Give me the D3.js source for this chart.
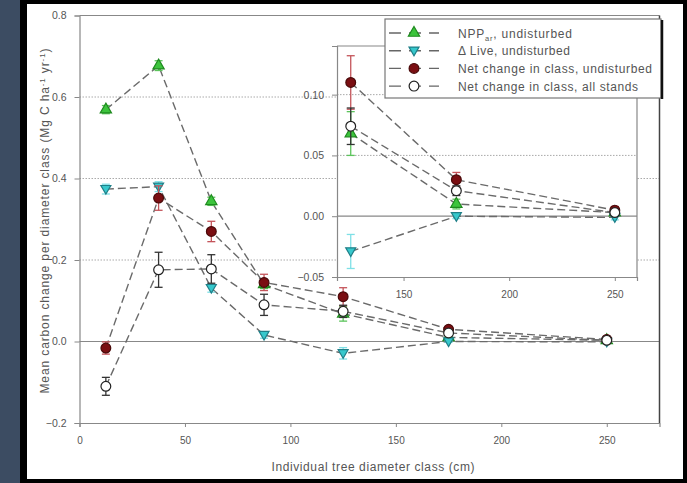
<!DOCTYPE html>
<html>
  <head>
    <meta charset="utf-8">
    <title>Carbon change per diameter class</title>
    <script src="https://cdn.jsdelivr.net/npm/d3@7/dist/d3.min.js"></script>
    <style>
      body { margin: 0; background: #000; }
      text { font-family: "Liberation Sans", Arial, sans-serif; fill: #555; }
      .dash { fill: none; stroke: #6a6a6a; stroke-width: 1.4; stroke-dasharray: 8,4; }
      .grid { stroke: #aaa; stroke-width: 1; stroke-dasharray: 1.5,1.5; }
      .axis-line { stroke: #888; stroke-width: 1.2; fill: none; }
    </style>
  </head>
  <body>
    <svg id="chart" width="687" height="483"></svg>
    <script>
    // diameter classes (cm)
    var diamClass = [12.5, 37.5, 62.5, 87.5, 125, 175, 250];

    var nppVals = [0.569, 0.677, 0.344, 0.14, 0.068, 0.010, 0.003];
    var nppErr = [0.010, 0.012, 0.010, 0.010, 0.018, 0.004, 0.002];
    var liveVals = [0.374, 0.380, 0.131, 0.016, -0.029, 0.000, -0.001];
    var liveErr = [0.012, 0.012, 0.010, 0.008, 0.014, 0.002, 0.002];
    var netUndVals = [-0.016, 0.352, 0.270, 0.145, 0.110, 0.030, 0.005];
    var netUndErr = [0.015, 0.030, 0.025, 0.020, 0.022, 0.006, 0.003];
    var netAllVals = [-0.110, 0.176, 0.178, 0.090, 0.074, 0.021, 0.003];
    var netAllErr = [0.022, 0.043, 0.035, 0.026, 0.015, 0.004, 0.002];

    var xTicks = [0, 50, 100, 150, 200, 250];
    var yTicks = [-0.2, 0.0, 0.2, 0.4, 0.6, 0.8];
    var insetXTicks = [150, 200, 250];
    var insetYTicks = [-0.05, 0.00, 0.05, 0.10];

    var series = [
      {name: "npp", vals: nppVals, err: nppErr, shape: "up", fill: "#3cc43c", stroke: "#1f8a1f", errColor: "#5cc45c"},
      {name: "live", vals: liveVals, err: liveErr, shape: "down", fill: "#36c8cc", stroke: "#1f7f88", errColor: "#7fe0e6"},
      {name: "netUnd", vals: netUndVals, err: netUndErr, shape: "circle", fill: "#7a0e12", stroke: "#4a0a0a", errColor: "#c4545a"},
      {name: "netAll", vals: netAllVals, err: netAllErr, shape: "circle", fill: "#fff", stroke: "#222", errColor: "#333"}
    ];

    var svg = d3.select("#chart");

    // frame
    svg.append("rect").attr("x", 0).attr("y", 0).attr("width", 20).attr("height", 483).attr("fill", "#3c4c62");
    svg.append("rect").attr("x", 27).attr("y", 4).attr("width", 656).attr("height", 475).attr("fill", "#fff");

    var x = d3.scaleLinear().domain([0, 275]).range([79.5, 659.5]);
    var y = d3.scaleLinear().domain([-0.2, 0.8]).range([423, 15.5]);

    function drawPanel(g, xs, ys, xt, yt, gridVals, yFmt, minX) {
      var x0 = xs.range()[0], x1 = xs.range()[1];
      var yb = ys.range()[0], yt0 = ys.range()[1];

      gridVals.forEach(function(v) {
        g.append("line").attr("class", "grid")
          .attr("x1", x0).attr("x2", x1).attr("y1", ys(v)).attr("y2", ys(v));
      });
      g.append("line").attr("class", "axis-line")
        .attr("x1", x0).attr("x2", x1).attr("y1", ys(0)).attr("y2", ys(0))
        .attr("stroke-width", 1.5);

      // border
      g.append("line").attr("class", "axis-line").attr("x1", x0).attr("x2", x1).attr("y1", yt0).attr("y2", yt0);

      var xAxis = d3.axisBottom(xs).tickValues(xt).tickSize(4).tickFormat(d3.format("d"));
      g.append("g").attr("transform", "translate(0," + yb + ")").call(xAxis)
        .call(function(a) {
          a.select(".domain").attr("stroke", "#888").attr("stroke-width", 1.2);
          a.selectAll(".tick line").attr("stroke", "#888");
          a.selectAll("text").attr("font-size", 10).attr("fill", "#555").attr("dy", "1.35em");
        });

      var yAxis = d3.axisLeft(ys).tickValues(yt).tickSize(5).tickPadding(8).tickFormat(yFmt);
      g.append("g").attr("transform", "translate(" + x0 + ",0)").call(yAxis)
        .call(function(a) {
          a.select(".domain").attr("stroke", "#888").attr("stroke-width", 1.2);
          a.selectAll(".tick line").attr("stroke", "#888");
          a.selectAll("text").attr("font-size", 10.5).attr("fill", "#555");
        });

      var pts = function(s) {
        return diamClass.map(function(d, i) { return {x: d, v: s.vals[i], e: s.err[i]}; })
          .filter(function(p) { return p.x >= minX; });
      };

      var line = d3.line().x(function(p) { return xs(p.x); }).y(function(p) { return ys(p.v); });

      series.forEach(function(s) {
        g.append("path").attr("class", "dash").attr("d", line(pts(s)));
      });

      series.forEach(function(s) {
        var sg = g.append("g");
        var eb = sg.selectAll(".eb").data(pts(s)).enter().append("g")
          .attr("stroke", s.errColor).attr("stroke-width", 1.3);
        eb.append("line")
          .attr("x1", function(p) { return xs(p.x); }).attr("x2", function(p) { return xs(p.x); })
          .attr("y1", function(p) { return ys(p.v + p.e); }).attr("y2", function(p) { return ys(p.v - p.e); });
        eb.append("line")
          .attr("x1", function(p) { return xs(p.x) - 4; }).attr("x2", function(p) { return xs(p.x) + 4; })
          .attr("y1", function(p) { return ys(p.v + p.e); }).attr("y2", function(p) { return ys(p.v + p.e); });
        eb.append("line")
          .attr("x1", function(p) { return xs(p.x) - 4; }).attr("x2", function(p) { return xs(p.x) + 4; })
          .attr("y1", function(p) { return ys(p.v - p.e); }).attr("y2", function(p) { return ys(p.v - p.e); });

        sg.selectAll(".m").data(pts(s)).enter().append("path")
          .attr("d", markerPath(s.shape))
          .attr("transform", function(p) { return "translate(" + xs(p.x) + "," + ys(p.v) + ")"; })
          .attr("fill", s.fill).attr("stroke", s.stroke).attr("stroke-width", 1.2);
      });
    }

    function markerPath(shape) {
      if (shape == "up") return d3.symbol().type(d3.symbolTriangle).size(55)();
      if (shape == "down") return "M-5,-3.6L5,-3.6L0,5Z";
      return d3.symbol().type(d3.symbolCircle).size(75)();
    }

    // main plot
    var mainG = svg.append("g");
    drawPanel(mainG, x, y, xTicks, yTicks, [0.2, 0.4, 0.6], d3.format(".1f"), 0);
    mainG.append("line").attr("x1", 659.5).attr("x2", 659.5).attr("y1", 15.5).attr("y2", 423)
      .attr("stroke", "#444").attr("stroke-width", 1.5);

    // inset
    var xi = d3.scaleLinear().domain([118.5, 260.5]).range([337, 637]);
    var yi = d3.scaleLinear().domain([-0.05, 0.14]).range([277, 46]);
    var insetG = svg.append("g");
    insetG.append("rect").attr("x", 337).attr("y", 46).attr("width", 300).attr("height", 231).attr("fill", "#fff");
    drawPanel(insetG, xi, yi, insetXTicks, insetYTicks, [0.05, 0.10], d3.format(".2f"), 120);
    insetG.append("line").attr("class", "axis-line").attr("x1", 637).attr("x2", 637).attr("y1", 46).attr("y2", 277);

    // legend
    var legG = svg.append("g").attr("transform", "translate(385,19)");
    legG.append("rect").attr("width", 276).attr("height", 79).attr("fill", "#fff")
      .attr("stroke", "#777").attr("stroke-width", 1.2);
    legG.append("line").attr("x1", 277).attr("x2", 277).attr("y1", 1).attr("y2", 80)
      .attr("stroke", "#111").attr("stroke-width", 2.5);

    var legLabels = [
      ["NPP", "ar", ", undisturbed"],
      ["\u0394 Live, undisturbed"],
      ["Net change in class, undisturbed"],
      ["Net change in class, all stands"]
    ];
    var legWidths = [114, 112, 194, 180];
    var legRow = legG.selectAll(".leg").data(series).enter().append("g")
      .attr("transform", function(d, i) { return "translate(0," + (14 + i * 17.7) + ")"; });
    legRow.append("line").attr("x1", 4).attr("x2", 54).attr("y1", 0).attr("y2", 0)
      .attr("stroke", "#666").attr("stroke-width", 1.4).attr("stroke-dasharray", "12,8");
    legRow.append("path").attr("d", function(d) { return markerPath(d.shape); })
      .attr("transform", "translate(29,0)")
      .attr("fill", function(d) { return d.fill; }).attr("stroke", function(d) { return d.stroke; })
      .attr("stroke-width", 1.2);
    var legText = legRow.append("text").attr("x", 73).attr("y", 4.5).attr("font-size", 12).attr("fill", "#444")
      .attr("textLength", function(d, i) { return legWidths[i]; })
      .attr("lengthAdjust", "spacing");
    legText.each(function(d, i) {
      var t = d3.select(this);
      var parts = legLabels[i];
      t.append("tspan").text(parts[0]);
      if (parts.length > 1) {
        t.append("tspan").attr("font-size", 7.5).attr("dy", 3).text(parts[1]);
        t.append("tspan").attr("dy", -3).text(parts[2]);
      }
    });

    // axis titles
    svg.append("text").attr("x", 373).attr("y", 471).attr("text-anchor", "middle")
      .attr("font-size", 12).attr("textLength", 203).attr("lengthAdjust", "spacing")
      .text("Individual tree diameter class (cm)");

    var yTitle = svg.append("text").attr("transform", "translate(49,221) rotate(-90)")
      .attr("text-anchor", "middle").attr("font-size", 12)
      .attr("textLength", 345).attr("lengthAdjust", "spacing");
    yTitle.append("tspan").text("Mean carbon change per diameter class (Mg C ha");
    yTitle.append("tspan").attr("font-size", 8).attr("dy", -4).text("-1");
    yTitle.append("tspan").attr("dy", 4).text(" yr");
    yTitle.append("tspan").attr("font-size", 8).attr("dy", -4).text("-1");
    yTitle.append("tspan").attr("dy", 4).text(")");
    </script>
  </body>
</html>
